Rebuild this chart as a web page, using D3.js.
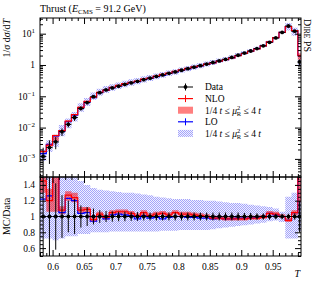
<!DOCTYPE html>
<html>
<head>
<meta charset="utf-8">
<script src="https://cdn.jsdelivr.net/npm/d3@7"></script>
<style>
  body { margin: 0; background: #fff; }
  svg text { font-family: "Liberation Serif", serif; fill: #000; }
</style>
</head>
<body>
<svg id="thrust" width="313" height="283"></svg>
<script>
// bin edges in T
const binEdges = [0.58, 0.59, 0.60, 0.61, 0.62, 0.63, 0.64, 0.65, 0.66, 0.67, 0.68,
  0.69, 0.70, 0.71, 0.72, 0.73, 0.74, 0.75, 0.76, 0.77, 0.78, 0.79, 0.80, 0.81,
  0.82, 0.83, 0.84, 0.85, 0.86, 0.87, 0.88, 0.89, 0.90, 0.91, 0.92, 0.93, 0.94,
  0.95, 0.96, 0.97, 0.98, 0.99, 0.995];

// 1/sigma dsigma/dT, data
const dataVals = [0.0012, 0.0023, 0.0035, 0.0074, 0.0127, 0.021, 0.041, 0.063, 0.097, 0.13,
  0.16, 0.185, 0.21, 0.24, 0.27, 0.30, 0.34, 0.38, 0.43, 0.48,
  0.54, 0.60, 0.68, 0.76, 0.85, 0.95, 1.07, 1.2, 1.35, 1.52,
  1.75, 2.05, 2.4, 2.8, 3.35, 4.1, 5.3, 7.3, 11.0, 17.6,
  12.0, 1.25];
// relative data uncertainty
const dataErr = [0.9, 0.7, 0.42, 0.27, 0.2, 0.22, 0.14, 0.12, 0.1, 0.08,
  0.07, 0.065, 0.06, 0.06, 0.055, 0.055, 0.05, 0.05, 0.05, 0.05,
  0.05, 0.05, 0.05, 0.05, 0.05, 0.05, 0.05, 0.05, 0.05, 0.05,
  0.05, 0.05, 0.045, 0.045, 0.04, 0.04, 0.04, 0.035, 0.035, 0.035,
  0.04, 0.2];

// MC / Data
const nloRatio = [1.45, 1.2, 1.6, 1.08, 1.27, 1.24, 1.08, 1.09, 0.96, 1.03,
  0.99, 1.05, 1.06, 1.06, 1.04, 1.01, 1.05, 1.01, 1.03, 1.04,
  1.02, 1.05, 1.03, 1.03, 1.02, 1.01, 1.0, 0.98, 0.98, 0.97,
  0.97, 0.97, 0.97, 0.98, 0.98, 0.99, 1.04, 1.03, 1.0, 0.95,
  1.05, 1.6];
const loRatio = [1.22, 1.26, 1.55, 1.05, 1.23, 1.2, 1.04, 1.05, 0.94, 1.0,
  0.97, 1.02, 1.03, 1.02, 1.01, 0.97, 1.01, 0.98, 0.99, 0.97,
  0.99, 1.0, 1.0, 0.99, 0.99, 0.98, 0.98, 0.97, 0.98, 0.97,
  0.97, 0.98, 0.98, 0.98, 0.99, 1.0, 1.04, 1.02, 1.0, 0.95,
  1.05, 1.6];

// scale variation bands (as ratio to data)
const nloBandLow = [1.3, 1.06, 1.06, 1.03, 1.2, 1.18, 1.04, 1.05, 0.93, 1.0,
  0.96, 1.02, 1.03, 1.03, 1.01, 0.99, 1.02, 0.99, 1.01, 1.02,
  1.0, 1.03, 1.01, 1.01, 1.0, 0.99, 0.98, 0.96, 0.96, 0.95,
  0.95, 0.95, 0.95, 0.96, 0.96, 0.97, 1.02, 1.01, 0.98, 0.93,
  1.02, 1.18];
const nloBandHigh = [1.5, 1.35, 1.7, 1.13, 1.32, 1.3, 1.12, 1.12, 0.99, 1.06,
  1.02, 1.08, 1.09, 1.09, 1.07, 1.04, 1.08, 1.04, 1.06, 1.07,
  1.05, 1.08, 1.06, 1.06, 1.05, 1.04, 1.03, 1.01, 1.01, 1.0,
  1.0, 1.0, 1.0, 1.01, 1.01, 1.02, 1.07, 1.06, 1.03, 0.98,
  1.08, 1.9];
const loBandLow = [0.72, 0.72, 0.7, 0.72, 0.75, 0.75, 0.78, 0.78, 0.8, 0.8,
  0.8, 0.81, 0.81, 0.81, 0.81, 0.81, 0.81, 0.81, 0.81, 0.82,
  0.82, 0.82, 0.83, 0.83, 0.83, 0.83, 0.83, 0.84, 0.85, 0.86,
  0.87, 0.88, 0.89, 0.9, 0.91, 0.92, 0.94, 0.95, 0.93, 0.72,
  0.72, 0.82];
const loBandHigh = [1.7, 1.7, 1.7, 1.65, 1.55, 1.5, 1.45, 1.4, 1.36, 1.34,
  1.33, 1.32, 1.31, 1.3, 1.3, 1.29, 1.28, 1.27, 1.25, 1.24,
  1.23, 1.22, 1.22, 1.22, 1.21, 1.21, 1.2, 1.2, 1.19, 1.18,
  1.17, 1.17, 1.16, 1.15, 1.14, 1.13, 1.12, 1.1, 1.06, 1.25,
  1.3, 1.7];

// tick labels
const xTickLabels = [0.6, 0.65, 0.7, 0.75, 0.8, 0.85, 0.9, 0.95];
const ratioTickLabels = [0.6, 0.8, 1, 1.2, 1.4];
const mainTickExps = [-3, -2, -1, 0, 1];

const legendItems = ["Data", "NLO", "band", "LO", "band"];

function drawThrust() {
  const L = 40, R = 301, mainTop = 18, mainBot = 177, ratioTop = 177, ratioBot = 256;
  const svg = d3.select("#thrust");

  const bins = dataVals.map((v, i) => ({
    lo: binEdges[i], hi: binEdges[i + 1], c: (binEdges[i] + binEdges[i + 1]) / 2,
    v: v, err: dataErr[i], nlo: nloRatio[i], lo_: loRatio[i],
    nl: nloBandLow[i], nh: nloBandHigh[i], ll: loBandLow[i], lh: loBandHigh[i],
  }));

  const x = d3.scaleLinear().domain([0.58, 0.995]).range([L, R]);
  const y = d3.scaleLog().domain([2.64e-4, 31.7]).range([mainBot, mainTop]);
  const yr = d3.scaleLinear().domain([0.5, 1.5]).range([ratioBot, ratioTop]);

  const defs = svg.append("defs");
  defs.append("clipPath").attr("id", "clipMain")
    .append("rect").attr("x", L).attr("y", mainTop).attr("width", R - L).attr("height", mainBot - mainTop);
  defs.append("clipPath").attr("id", "clipRatio")
    .append("rect").attr("x", L).attr("y", ratioTop).attr("width", R - L).attr("height", ratioBot - ratioTop);
  const pat = defs.append("pattern").attr("id", "checker")
    .attr("width", 2).attr("height", 2).attr("patternUnits", "userSpaceOnUse");
  pat.append("rect").attr("width", 2).attr("height", 2).attr("fill", "#f0f0ff");
  pat.append("rect").attr("width", 1).attr("height", 1).attr("fill", "#a4a4fa");
  pat.append("rect").attr("x", 1).attr("y", 1).attr("width", 1).attr("height", 1).attr("fill", "#a4a4fa");

  const steps = bins.flatMap((b) => [[b.lo, b], [b.hi, b]]);

  // ---- panels
  function drawPanel(g, yScale, val) {
    // LO band
    g.append("path")
      .attr("fill", "url(#checker)")
      .attr("d", d3.area().x((d) => x(d[0]))
        .y0((d) => yScale(val(d[1], d[1].ll))).y1((d) => yScale(val(d[1], d[1].lh)))(steps));
    // NLO band
    g.append("path")
      .attr("fill", "#ff0000").attr("fill-opacity", 0.5)
      .attr("d", d3.area().x((d) => x(d[0]))
        .y0((d) => yScale(val(d[1], d[1].nl))).y1((d) => yScale(val(d[1], d[1].nh)))(steps));
    // LO line
    g.append("path")
      .attr("fill", "none").attr("stroke", "#0000ff").attr("stroke-width", 1.2)
      .attr("d", d3.line().x((d) => x(d[0])).y((d) => yScale(val(d[1], d[1].lo_)))(steps));
    // NLO line
    g.append("path")
      .attr("fill", "none").attr("stroke", "#ff0000").attr("stroke-width", 1.2)
      .attr("d", d3.line().x((d) => x(d[0])).y((d) => yScale(val(d[1], d[1].nlo)))(steps));
    // data
    const pts = g.selectAll(".pt").data(bins).enter().append("g");
    pts.append("line")
      .attr("x1", (d) => x(d.lo)).attr("x2", (d) => x(d.hi))
      .attr("y1", (d) => yScale(val(d, 1))).attr("y2", (d) => yScale(val(d, 1)))
      .attr("stroke", "#000").attr("stroke-width", 1);
    pts.append("line")
      .attr("x1", (d) => x(d.c)).attr("x2", (d) => x(d.c))
      .attr("y1", (d) => yScale(val(d, Math.max(1 - d.err, 0.001))))
      .attr("y2", (d) => yScale(val(d, 1 + d.err)))
      .attr("stroke", "#000").attr("stroke-width", 1);
    pts.append("circle")
      .attr("cx", (d) => x(d.c)).attr("cy", (d) => yScale(val(d, 1)))
      .attr("r", 1.9).attr("fill", "#000");
  }

  drawPanel(svg.append("g").attr("clip-path", "url(#clipMain)"), y, (b, r) => b.v * r);
  drawPanel(svg.append("g").attr("clip-path", "url(#clipRatio)"), yr, (b, r) => r);

  // ---- axes
  const noDomain = (g) => g.select(".domain").remove();
  const xMinor = d3.range(0.58, 0.9951, 0.01).filter((t) => xTickLabels.every((m) => Math.abs(m - t) > 1e-6));

  [[mainBot, false], [ratioBot, true]].forEach(([yy, labels]) => {
    svg.append("g").attr("transform", `translate(0,${yy})`)
      .call(d3.axisBottom(x).tickValues(xMinor).tickSize(-3).tickFormat(""))
      .call(noDomain);
    const ax = svg.append("g").attr("transform", `translate(0,${yy})`)
      .call(d3.axisBottom(x).tickValues(xTickLabels).tickSize(-6).tickPadding(7)
        .tickFormat(labels ? (d) => String(d) : ""))
      .call(noDomain);
    ax.selectAll("text").attr("font-size", 9.5).attr("font-family", "Liberation Serif");
  });
  [mainTop, ratioTop].forEach((yy) => {
    svg.append("g").attr("transform", `translate(0,${yy})`)
      .call(d3.axisTop(x).tickValues(xMinor).tickSize(-3).tickFormat(""))
      .call(noDomain);
    svg.append("g").attr("transform", `translate(0,${yy})`)
      .call(d3.axisTop(x).tickValues(xTickLabels).tickSize(-6).tickFormat(""))
      .call(noDomain);
  });

  // main y (log)
  const logMinor = [];
  mainTickExps.concat([-4]).forEach((e) => {
    for (let k = 2; k <= 9; k++) {
      const v = k * Math.pow(10, e);
      if (v > 2.64e-4 && v < 31.7) logMinor.push(v);
    }
  });
  const logMajor = mainTickExps.map((e) => Math.pow(10, e));
  [[d3.axisLeft, L], [d3.axisRight, R]].forEach(([axf, xx]) => {
    svg.append("g").attr("transform", `translate(${xx},0)`)
      .call(axf(y).tickValues(logMinor).tickSize(-3).tickFormat("")).call(noDomain);
    svg.append("g").attr("transform", `translate(${xx},0)`)
      .call(axf(y).tickValues(logMajor).tickSize(-6).tickFormat("")).call(noDomain);
  });
  mainTickExps.forEach((e) => {
    const t = svg.append("text").attr("x", L - 5).attr("y", y(Math.pow(10, e)) + 3.3)
      .attr("text-anchor", "end").attr("font-size", 9.5);
    if (e === 0) { t.text("1"); return; }
    t.append("tspan").text("10");
    t.append("tspan").attr("dy", -4).attr("font-size", 7).text(e < 0 ? "\u2212" + (-e) : String(e));
  });

  // ratio y
  const rMinor = d3.range(0.5, 1.501, 0.05).filter((t) => Math.abs(t * 5 - Math.round(t * 5)) > 1e-6);
  const rMajor = [0.6, 0.8, 1.0, 1.2, 1.4];
  [[d3.axisLeft, L], [d3.axisRight, R]].forEach(([axf, xx], i) => {
    svg.append("g").attr("transform", `translate(${xx},0)`)
      .call(axf(yr).tickValues(rMinor).tickSize(-3).tickFormat("")).call(noDomain);
    const ax = svg.append("g").attr("transform", `translate(${xx},0)`)
      .call(axf(yr).tickValues(i === 0 ? ratioTickLabels : rMajor).tickSize(-6).tickPadding(5)
        .tickFormat(i === 0 ? (d) => String(d) : "")).call(noDomain);
    ax.selectAll("text").attr("font-size", 9.5).attr("font-family", "Liberation Serif");
  });

  // frames
  svg.append("rect").attr("x", L).attr("y", mainTop).attr("width", R - L).attr("height", mainBot - mainTop)
    .attr("fill", "none").attr("stroke", "#000").attr("stroke-width", 1);
  svg.append("rect").attr("x", L).attr("y", ratioTop).attr("width", R - L).attr("height", ratioBot - ratioTop)
    .attr("fill", "none").attr("stroke", "#000").attr("stroke-width", 1);

  // ---- texts
  const title = svg.append("text").attr("x", L).attr("y", 12).attr("font-size", 10);
  title.append("tspan").text("Thrust (");
  title.append("tspan").attr("font-style", "italic").text("E");
  title.append("tspan").attr("dy", 2).attr("font-size", 7).text("CMS");
  title.append("tspan").attr("dy", -2).text(" = 91.2 GeV)");

  const yl = svg.append("text").attr("transform", "translate(10,19) rotate(-90)")
    .attr("text-anchor", "end").attr("font-size", 10);
  yl.append("tspan").text("1/");
  yl.append("tspan").attr("font-style", "italic").text("\u03c3");
  yl.append("tspan").text(" d");
  yl.append("tspan").attr("font-style", "italic").text("\u03c3");
  yl.append("tspan").text("/d");
  yl.append("tspan").attr("font-style", "italic").text("T");

  svg.append("text").attr("transform", `translate(10,${yr(1)}) rotate(-90)`)
    .attr("text-anchor", "middle").attr("font-size", 10).text("MC/Data");

  svg.append("text").attr("x", R - 1).attr("y", 277).attr("text-anchor", "end")
    .attr("font-size", 10).attr("font-style", "italic").text("T");

  const dire = svg.append("text").attr("transform", `translate(304,${mainTop + 1}) rotate(90)`)
    .attr("font-size", 10);
  dire.append("tspan").text("D");
  dire.append("tspan").attr("font-size", 7.5).text("IRE");
  dire.append("tspan").text(" PS");

  // ---- legend
  const lx0 = 178, lx1 = 193, tx = 205, ly0 = 87, dy = 11.6;
  legendItems.forEach((name, i) => {
    const yy = ly0 + i * dy;
    const g = svg.append("g");
    if (name === "Data") {
      g.append("line").attr("x1", lx0).attr("x2", lx1).attr("y1", yy).attr("y2", yy).attr("stroke", "#000");
      g.append("line").attr("x1", (lx0 + lx1) / 2).attr("x2", (lx0 + lx1) / 2).attr("y1", yy - 3.5).attr("y2", yy + 3.5).attr("stroke", "#000");
      g.append("circle").attr("cx", (lx0 + lx1) / 2).attr("cy", yy).attr("r", 1.9).attr("fill", "#000");
    } else if (name === "NLO" || name === "LO") {
      const col = name === "NLO" ? "#ff0000" : "#0000ff";
      g.append("line").attr("x1", lx0).attr("x2", lx1).attr("y1", yy).attr("y2", yy).attr("stroke", col).attr("stroke-width", 1.2);
      g.append("line").attr("x1", (lx0 + lx1) / 2).attr("x2", (lx0 + lx1) / 2).attr("y1", yy - 3.5).attr("y2", yy + 3.5).attr("stroke", col);
    } else {
      g.append("rect").attr("x", lx0).attr("y", yy - 3.5).attr("width", lx1 - lx0).attr("height", 7)
        .attr("fill", i === 2 ? "#ff0000" : "url(#checker)").attr("fill-opacity", i === 2 ? 0.5 : 1);
    }
    const t = g.append("text").attr("x", tx).attr("y", yy + 3.3).attr("font-size", 9.5);
    if (name !== "band") { t.text(name); return; }
    t.append("tspan").text("1/4 ");
    t.append("tspan").attr("font-style", "italic").text("t");
    t.append("tspan").text(" \u2264 ");
    t.append("tspan").attr("font-style", "italic").text("\u03bc");
    t.append("tspan").attr("dy", -4).attr("font-size", 6.5).text("2");
    t.append("tspan").attr("dx", -3.3).attr("dy", 6.5).attr("font-size", 6.5).text("R");
    t.append("tspan").attr("dy", -2.5).text(" \u2264 4 ");
    t.append("tspan").attr("font-style", "italic").text("t");
  });
}

drawThrust();
</script>
</body>
</html>
